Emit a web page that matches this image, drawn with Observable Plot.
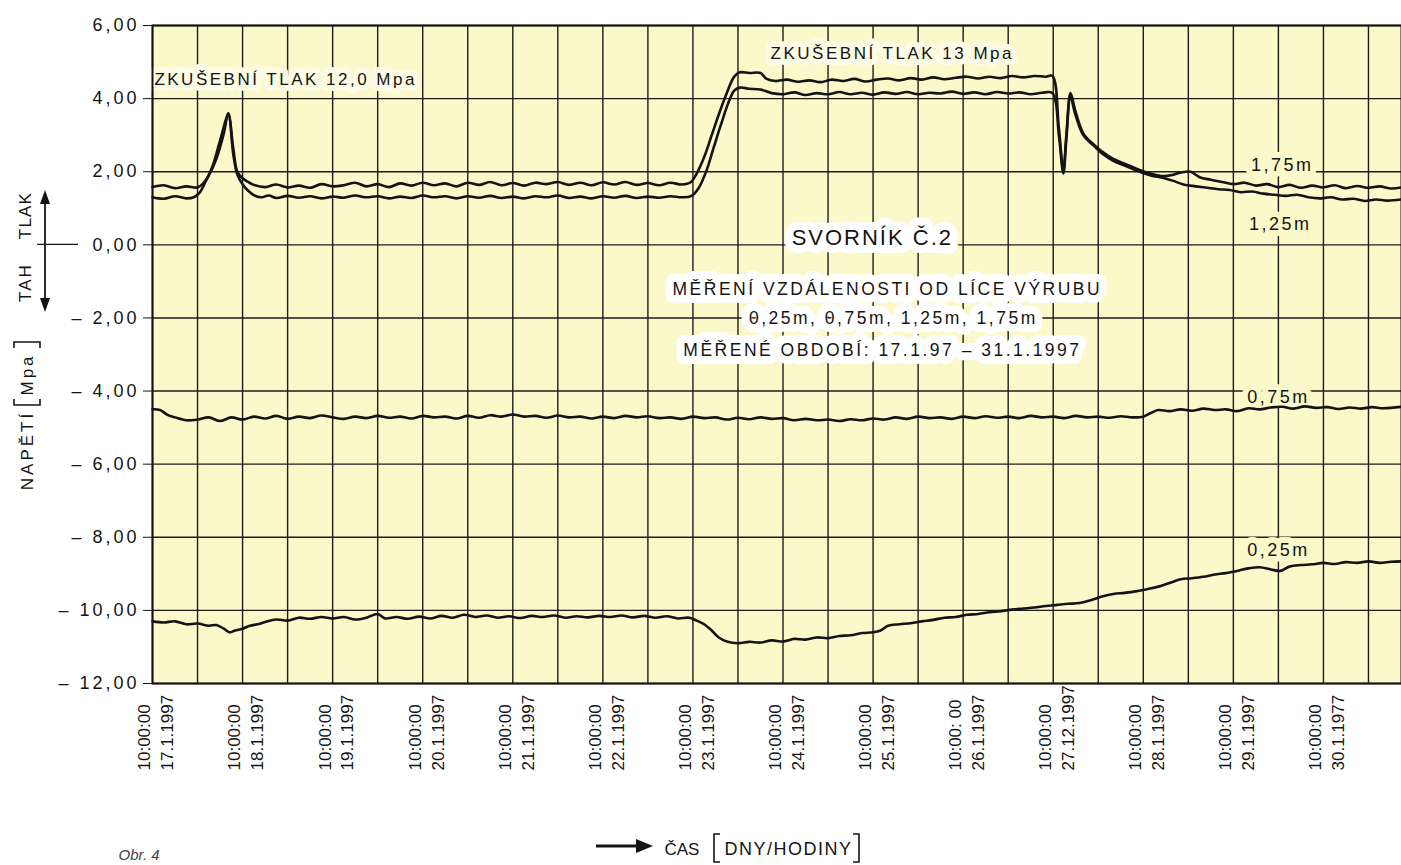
<!DOCTYPE html>
<html><head><meta charset="utf-8">
<script src="https://cdn.jsdelivr.net/npm/d3@7"></script>
<script src="https://cdn.jsdelivr.net/npm/@observablehq/plot@0.6"></script>
<style>
html,body{margin:0;padding:0;background:#fff;}
#chart{position:relative;width:1401px;height:865px;overflow:hidden;}
svg g[aria-description="ls1"] text{letter-spacing:1.2px;}
svg g[aria-description="ls15"] text{letter-spacing:1.5px;}
svg g[aria-description="ls2"] text{letter-spacing:2px;}
svg g[aria-description="ls25"] text{letter-spacing:2.5px;}
svg g[aria-description="ls3"] text{letter-spacing:3px;}
svg g[aria-label^="y-axis"] text{letter-spacing:3px;}
</style></head><body><div id="chart"></div>
<script>
// ---- time base: hours after 17.1.1997 10:00 ----
const T0 = Date.UTC(1997, 0, 17, 10, 0, 0);
const toDate = h => new Date(T0 + h * 3600e3);
const endHour = 332.8;

// ---- axes ----
const yTicks = [6, 4, 2, 0, -2, -4, -6, -8, -10, -12];
const yTickLabels = ["6,00","4,00","2,00","0,00","– 2,00","– 4,00","– 6,00","– 8,00","– 10,00","– 12,00"];
const xTickHours = [0,24,48,72,96,120,144,168,192,216,240,264,288,312];
const xTickTimes = ["10:00:00","10:00:00","10:00:00","10:00:00","10:00:00","10:00:00","10:00:00","10:00:00","10:00:00","10:00: 00","10:00:00","10:00:00","10:00:00","10:00:00"];
const xTickDates = ["17.1.1997","18.1.1997","19.1.1997","20.1.1997","21.1.1997","22.1.1997","23.1.1997","24.1.1997","25.1.1997","26.1.1997","27.12.1997","28.1.1997","29.1.1997","30.1.1977"];
const gridHours = d3.range(0, endHour, 12);

// ---- series 1,75m ----
const h175 = [0,3,6,9,12,13.5,15,17,19,20.2,21.5,22.6,24,25.5,27,30,33,36,39,42,45,48,51,54,57,60,63,66,69,72,75,78,81,84,87,90,93,96,99,102,105,108,111,114,117,120,123,126,129,132,135,138,141,143.5,145,147,149,151,153,155,156.5,159,162,163.5,166,169,172,175,178,181,184,187,190,193,196,199,202,205,208,211,214,217,220,223,226,229,232,235,238,239.8,241.5,242.7,243.5,244.6,245.8,248,250.7,253,256,259.5,263,266,269.4,272,274,276.6,279,282,285,288,291,294,297,300,303,306,309,312,315,318,321,324,327,330,332.8];
const v175 = [1.58,1.63,1.55,1.6,1.57,1.68,1.9,2.35,3.05,3.6,2.65,2.0,1.82,1.72,1.64,1.58,1.65,1.57,1.62,1.56,1.66,1.6,1.63,1.7,1.6,1.66,1.58,1.68,1.62,1.7,1.63,1.68,1.6,1.7,1.64,1.72,1.63,1.69,1.62,1.7,1.66,1.72,1.64,1.7,1.63,1.71,1.65,1.72,1.64,1.69,1.63,1.7,1.65,1.72,1.95,2.4,3.0,3.6,4.15,4.6,4.72,4.7,4.7,4.55,4.48,4.52,4.46,4.5,4.45,4.52,4.48,4.54,4.47,4.52,4.55,4.5,4.56,4.52,4.58,4.53,4.57,4.6,4.55,4.6,4.56,4.62,4.58,4.62,4.6,4.62,3.2,2.05,3.0,4.15,3.7,3.05,2.75,2.55,2.35,2.2,2.05,1.95,1.88,1.92,1.98,2.0,1.85,1.78,1.72,1.66,1.7,1.62,1.66,1.58,1.64,1.56,1.62,1.57,1.63,1.55,1.61,1.56,1.6,1.54,1.57];

// ---- series 1,25m ----
const h125 = [0,3,6,9,11,12.5,14,16,18,20.2,21.5,22.6,24,25.5,27,29,31,33,36,39,42,45,48,51,54,57,60,63,66,69,72,75,78,81,84,87,90,93,96,99,102,105,108,111,114,117,120,123,126,129,132,135,138,141,143.5,145.5,147.5,149.5,151.5,153.5,155,156.5,159,162,165,168,171,174,177,180,183,186,189,192,195,198,201,204,207,210,213,216,219,222,225,228,231,234,237,239.8,241.5,242.7,243.5,244.6,245.8,248,250.7,253,256,259.5,263,266,269.4,272,274.7,278,281,284,287,290,293,296,299,302,305,308,311,314,317,320,323,326,329,332.8];
const v125 = [1.3,1.26,1.33,1.27,1.3,1.42,1.7,2.15,2.85,3.55,2.5,1.92,1.66,1.48,1.36,1.3,1.35,1.28,1.34,1.29,1.33,1.27,1.32,1.29,1.35,1.3,1.33,1.27,1.32,1.28,1.35,1.3,1.33,1.27,1.33,1.29,1.34,1.28,1.32,1.27,1.33,1.3,1.35,1.28,1.32,1.27,1.33,1.29,1.34,1.28,1.32,1.29,1.33,1.3,1.33,1.55,2.0,2.65,3.3,3.9,4.22,4.3,4.27,4.25,4.15,4.12,4.17,4.1,4.15,4.12,4.18,4.12,4.16,4.11,4.17,4.13,4.18,4.12,4.16,4.14,4.19,4.13,4.17,4.12,4.18,4.14,4.17,4.12,4.16,4.15,3.0,1.95,2.9,4.05,3.6,3.0,2.72,2.5,2.3,2.15,2.0,1.9,1.83,1.75,1.65,1.6,1.56,1.52,1.5,1.44,1.46,1.4,1.37,1.34,1.37,1.3,1.27,1.3,1.24,1.26,1.2,1.24,1.21,1.24];

// ---- series 0,75m ----
const h075 = [0,2,4,6,9,12,15,18,21,24,27,30,33,36,39,42,45,48,51,54,57,60,63,66,69,72,75,78,81,84,87,90,93,96,99,102,105,108,111,114,117,120,123,126,129,132,135,138,141,144,147,150,153,156,159,162,165,168,171,174,177,180,183,186,189,192,195,198,201,204,207,210,213,216,219,222,225,228,231,234,237,240,243,246,249,252,255,258,261,264,266,268,271,274,277,280,283,286,289,292,295,298,301,304,307,310,313,316,319,322,325,328,332.8];
const v075 = [-4.5,-4.52,-4.65,-4.72,-4.8,-4.78,-4.72,-4.82,-4.72,-4.78,-4.7,-4.75,-4.68,-4.76,-4.7,-4.74,-4.67,-4.72,-4.76,-4.7,-4.74,-4.68,-4.73,-4.7,-4.75,-4.68,-4.72,-4.7,-4.75,-4.68,-4.73,-4.66,-4.7,-4.64,-4.7,-4.68,-4.73,-4.67,-4.72,-4.7,-4.75,-4.7,-4.74,-4.68,-4.72,-4.69,-4.74,-4.72,-4.76,-4.7,-4.74,-4.72,-4.78,-4.73,-4.77,-4.72,-4.76,-4.74,-4.8,-4.76,-4.8,-4.78,-4.82,-4.77,-4.8,-4.75,-4.78,-4.72,-4.76,-4.7,-4.74,-4.72,-4.76,-4.7,-4.74,-4.69,-4.73,-4.7,-4.74,-4.68,-4.72,-4.7,-4.74,-4.68,-4.72,-4.7,-4.73,-4.69,-4.72,-4.7,-4.6,-4.52,-4.55,-4.5,-4.54,-4.48,-4.52,-4.5,-4.55,-4.47,-4.5,-4.45,-4.43,-4.48,-4.42,-4.46,-4.44,-4.49,-4.45,-4.48,-4.44,-4.47,-4.43];

// ---- series 0,25m ----
const h025 = [0,3,6,9,12,15,17,19,20.5,22,24,26,28,30,33,36,39,42,45,48,51,54,57,60,62,65,68,71,74,77,80,83,86,89,92,95,98,101,104,107,110,113,116,119,122,125,128,131,134,137,140,143,145,147,149,151,153,156,159,162,165,168,171,174,177,180,183,186,189,192,194,196,199,202,205,208,211,214,217,220,223,226,229,232,235,238,241,244,247,250,253,256,259,262,265,268,271,274,277,280,283,286,289,292,295,298,300.5,303,306,309,312,315,318,321,324,327,330,332.8];
const v025 = [-10.3,-10.33,-10.3,-10.38,-10.36,-10.42,-10.4,-10.5,-10.6,-10.55,-10.5,-10.42,-10.38,-10.32,-10.25,-10.28,-10.2,-10.23,-10.18,-10.22,-10.18,-10.25,-10.2,-10.1,-10.22,-10.18,-10.23,-10.17,-10.22,-10.15,-10.2,-10.12,-10.18,-10.14,-10.2,-10.16,-10.21,-10.15,-10.18,-10.14,-10.2,-10.16,-10.19,-10.15,-10.18,-10.14,-10.19,-10.15,-10.2,-10.16,-10.22,-10.2,-10.28,-10.38,-10.55,-10.75,-10.85,-10.9,-10.86,-10.88,-10.82,-10.85,-10.78,-10.8,-10.74,-10.76,-10.7,-10.68,-10.62,-10.6,-10.55,-10.42,-10.38,-10.35,-10.3,-10.26,-10.2,-10.18,-10.12,-10.1,-10.05,-10.02,-9.98,-9.95,-9.92,-9.88,-9.85,-9.82,-9.8,-9.72,-9.62,-9.55,-9.52,-9.48,-9.42,-9.35,-9.25,-9.15,-9.12,-9.08,-9.02,-8.98,-8.92,-8.85,-8.82,-8.88,-8.92,-8.8,-8.76,-8.74,-8.7,-8.73,-8.68,-8.7,-8.66,-8.7,-8.67,-8.66];

// ---- annotations ----
const seriesLabelText = ["1,75m","1,25m","0,75m","0,25m"];
const seriesLabelHour = [301, 300.5, 300, 300];
const seriesLabelValue = [2.19, 0.56, -4.17, -8.36];
const testText = ["ZKUŠEBNÍ TLAK 12,0 Mpa","ZKUŠEBNÍ TLAK 13 Mpa"];
const testHour = [0.5, 164.7];
const testValue = [4.52, 5.22];
const noteTitle = ["SVORNÍK Č.2"];
const noteTitleHour = [191.8];
const noteTitleValue = [0.19];
const noteText = ["MĚŘENÍ VZDÁLENOSTI OD LÍCE VÝRUBU","0,25m, 0,75m, 1,25m, 1,75m","MĚŘENÉ OBDOBÍ: 17.1.97 – 31.1.1997"];
const noteHour = [195.8, 197.4, 194.5];
const noteValue = [-1.22, -2.02, -2.89];

// ---- build tables ----
const seriesDefs = [["1,75m", h175, v175], ["1,25m", h125, v125], ["0,75m", h075, v075], ["0,25m", h025, v025]];
const rows = seriesDefs.flatMap(([name, hs, vs]) => hs.map((h, i) => ({series: name, t: toDate(h), v: vs[i]})));
const labelRows = (txt, hs, vs) => txt.map((t, i) => ({text: t, t: toDate(hs[i]), v: vs[i]}));
const sLabels = labelRows(seriesLabelText, seriesLabelHour, seriesLabelValue);
const tLabels = labelRows(testText, testHour, testValue);
const nTitle = labelRows(noteTitle, noteTitleHour, noteTitleValue);
const nLines = labelRows(noteText, noteHour, noteValue);
const xLabels = xTickHours.map((h, i) => ({t: toDate(h), text: xTickTimes[i] + "\n" + xTickDates[i]}));

const BG = "#fbf8c9";
const INK = "#141414";
const FONT = "'Liberation Sans', Arial, Helvetica, sans-serif";

function halo(data, opts) {
  return [
    Plot.text(data, {x: "t", y: "v", text: "text", ...opts, fill: opts.halo, stroke: opts.halo, strokeWidth: opts.haloWidth, strokeLinejoin: "round"}),
    Plot.text(data, {x: "t", y: "v", text: "text", ...opts, fill: INK})
  ];
}
function fixed(txt, opts) {
  return Plot.text([txt], {text: d => d, frameAnchor: "top-left", lineAnchor: "middle", textAnchor: "middle", fill: INK, ...opts});
}

const chart = Plot.plot({
  width: 1401, height: 865,
  marginLeft: 152, marginRight: 0, marginTop: 25, marginBottom: 182,
  style: {fontFamily: FONT, fontSize: "18px", color: INK, background: "transparent", overflow: "visible"},
  x: {type: "utc", domain: [toDate(0), toDate(endHour)], axis: null},
  y: {domain: [-12, 6], ticks: yTicks, tickFormat: d => yTickLabels[yTicks.indexOf(d)], tickSize: 9, tickPadding: 4, label: null},
  marks: [
    Plot.frame({fill: BG}),
    Plot.ruleX(gridHours.map(toDate), {stroke: "#1c1c1c", strokeWidth: 1.4}),
    Plot.ruleY(yTicks, {stroke: "#1c1c1c", strokeWidth: 1.4}),
    ...halo(sLabels, {fontSize: 18, halo: BG, haloWidth: 12, ariaDescription: "ls25"}),
    ...halo(tLabels, {fontSize: 17, textAnchor: "start", halo: "#fdfbe4", haloWidth: 12, ariaDescription: "ls25"}),
    ...halo(nTitle, {fontSize: 22, halo: "#ffffff", haloWidth: 16, ariaDescription: "ls2"}),
    ...halo(nLines, {fontSize: 17.5, halo: "#ffffff", haloWidth: 16, ariaDescription: "ls25"}),
    Plot.line(rows, {x: "t", y: "v", z: "series", stroke: INK, strokeWidth: 2.6, curve: "catmull-rom"}),
    Plot.frame({stroke: INK, strokeWidth: 2}),
    Plot.text(xLabels, {x: "t", text: "text", rotate: -90, textAnchor: "start", lineAnchor: "middle", frameAnchor: "bottom", dx: 2, dy: 87, fontSize: 17, lineHeight: 1.35, fill: INK}),
    fixed("NAPĚTÍ", {rotate: -90, dx: -125, dy: 425, fontSize: 17, ariaDescription: "ls3"}),
    fixed("Mpa", {rotate: -90, dx: -125, dy: 349, fontSize: 17, ariaDescription: "ls3"}),
    fixed("TLAK", {rotate: -90, dx: -127, dy: 190, fontSize: 17, ariaDescription: "ls1"}),
    fixed("TAH", {rotate: -90, dx: -127, dy: 257, fontSize: 17, ariaDescription: "ls2"}),
    fixed("ČAS", {textAnchor: "start", dx: 512, dy: 824, fontSize: 17}),
    fixed("DNY/HODINY", {textAnchor: "start", dx: 572, dy: 824, fontSize: 18, ariaDescription: "ls15"}),
    fixed("Obr. 4", {textAnchor: "start", dx: -34, dy: 830, fontSize: 15, fontStyle: "italic", fill: "#444"})
  ]
});

// decorative strokes (arrows, tall brackets)
const svg = d3.select(chart);
const deco = svg.append("g").attr("fill", "none").attr("stroke", INK);
const y0 = 25 + (6 / 18) * 658;
deco.append("line").attr("x1", 45).attr("x2", 45).attr("y1", 200).attr("y2", 302).attr("stroke-width", 1.8);
deco.append("path").attr("d", "M45,190 L40,204 L50,204 Z").attr("fill", INK).attr("stroke", "none");
deco.append("path").attr("d", "M45,312 L40,298 L50,298 Z").attr("fill", INK).attr("stroke", "none");
deco.append("line").attr("x1", 37).attr("x2", 78).attr("y1", y0).attr("y2", y0).attr("stroke-width", 1.4);
deco.append("path").attr("d", "M14,348 L14,342 L40,342 L40,348").attr("stroke-width", 1.6);
deco.append("path").attr("d", "M14,399 L14,405 L40,405 L40,399").attr("stroke-width", 1.6);
deco.append("line").attr("x1", 596).attr("x2", 638).attr("y1", 846).attr("y2", 846).attr("stroke-width", 3);
deco.append("path").attr("d", "M636,839 L653,846 L636,853 Z").attr("fill", INK).attr("stroke", "none");
deco.append("path").attr("d", "M720,834 L714,834 L714,862 L720,862").attr("stroke-width", 1.6);
deco.append("path").attr("d", "M853,834 L859,834 L859,862 L853,862").attr("stroke-width", 1.6);

document.getElementById("chart").appendChild(chart);
</script></body></html>
